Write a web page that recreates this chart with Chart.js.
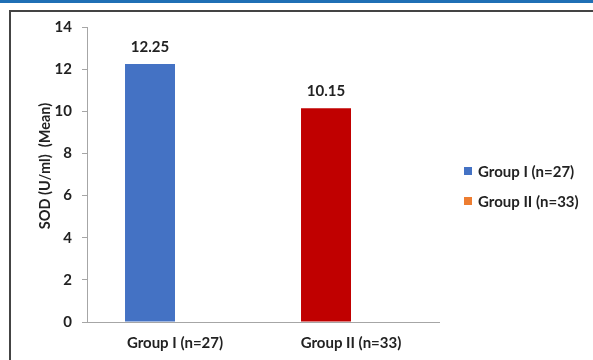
<!DOCTYPE html>
<html><head><meta charset="utf-8">
<script src="https://cdn.jsdelivr.net/npm/chart.js@4"></script>
<style>
html,body{margin:0;padding:0;background:#fff;width:593px;height:360px;overflow:hidden}
#topline{position:absolute;left:0;top:0;width:593px;height:3px;background:#1f6fb5}
#frame{position:absolute;left:9px;top:10px;width:700px;height:500px;border:2px solid #444;box-sizing:border-box}
#wrap{position:absolute;left:0;top:0;width:593px;height:360px}
</style></head><body>
<div id="topline"></div><div id="frame"></div>
<div id="wrap"><canvas id="c" width="593" height="360"></canvas></div>
<script>
const categories = ['Group I (n=27)', 'Group II (n=33)'];
const seriesNames = ['Group I (n=27)', 'Group II (n=33)'];
const meanValues = [12.25, 10.15];
const emptySeries = [null, null];
const yMin = 0, yMax = 14, yStep = 2;
const yTitle = 'SOD (U/ml)  (Mean)';
const barColors = ['#4472C4', '#C00000'];
const legendColors = ['#4472C4', '#ED7D31'];

const FONT = 'Lato, Carlito, "Open Sans", sans-serif';
const FS = 15;
const TXT = '#222';

const labelsPlugin = {
  id: 'valueLabels',
  afterDatasetsDraw(chart) {
    const ctx = chart.ctx;
    const meta = chart.getDatasetMeta(0);
    ctx.save();
    ctx.font = 'bold ' + FS + 'px ' + FONT;
    ctx.fillStyle = TXT;
    ctx.textAlign = 'center';
    ctx.textBaseline = 'middle';
    meta.data.forEach((bar, i) => {
      const v = chart.data.datasets[0].data[i];
      if (v == null) return;
      ctx.fillText(v.toFixed(2), bar.x, bar.y - 17);
    });
    ctx.restore();
  }
};

const sideLegendPlugin = {
  id: 'sideLegend',
  afterDraw(chart) {
    const ctx = chart.ctx;
    ctx.save();
    ctx.font = 'bold ' + FS + 'px ' + FONT;
    ctx.textBaseline = 'middle';
    ctx.textAlign = 'left';
    const x0 = 464, ys = [171, 201];
    seriesNames.forEach((name, i) => {
      ctx.fillStyle = legendColors[i];
      ctx.fillRect(x0, ys[i] - 4, 8, 8);
      ctx.fillStyle = TXT;
      ctx.fillText(name, x0 + 14, ys[i] + 1);
    });
    ctx.restore();
  }
};

const yTitlePlugin = {
  id: 'yTitle',
  afterDraw(chart) {
    const ctx = chart.ctx;
    ctx.save();
    ctx.translate(45, 166);
    ctx.rotate(-Math.PI / 2);
    ctx.font = 'bold 14.5px ' + FONT;
    ctx.fillStyle = TXT;
    ctx.textAlign = 'center';
    ctx.textBaseline = 'middle';
    ctx.fillText(yTitle, 0, 0);
    ctx.restore();
  }
};

new Chart(document.getElementById('c'), {
  type: 'bar',
  data: {
    labels: categories,
    datasets: [
      { label: seriesNames[0], data: meanValues, backgroundColor: barColors, borderWidth: 0 },
      { label: seriesNames[1], data: emptySeries, backgroundColor: legendColors[1], borderWidth: 0 }
    ]
  },
  options: {
    responsive: false,
    animation: false,
    devicePixelRatio: 1,
    layout: { padding: { left: 0, top: 27, right: 154, bottom: 0 } },
    datasets: { bar: { categoryPercentage: 0.568, barPercentage: 1.0 } },
    plugins: { legend: { display: false }, tooltip: { enabled: false } },
    scales: {
      x: {
        grid: { display: false, drawTicks: false },
        border: { display: true, color: '#a6a6a6', width: 1 },
        ticks: { color: TXT, font: { family: FONT, size: FS, weight: 'bold' }, padding: 12, maxRotation: 0 },
        afterFit(s) { s.height = 38; }
      },
      y: {
        min: yMin, max: yMax,
        grid: { display: true, drawOnChartArea: false, drawTicks: true, tickLength: 5, color: '#a6a6a6' },
        border: { display: true, color: '#a6a6a6', width: 1 },
        ticks: { stepSize: yStep, color: TXT, font: { family: FONT, size: FS, weight: 'bold' }, padding: 10 },
        afterFit(s) { s.width = 87; }
      }
    }
  },
  plugins: [labelsPlugin, sideLegendPlugin, yTitlePlugin]
});
</script>
</body></html>
